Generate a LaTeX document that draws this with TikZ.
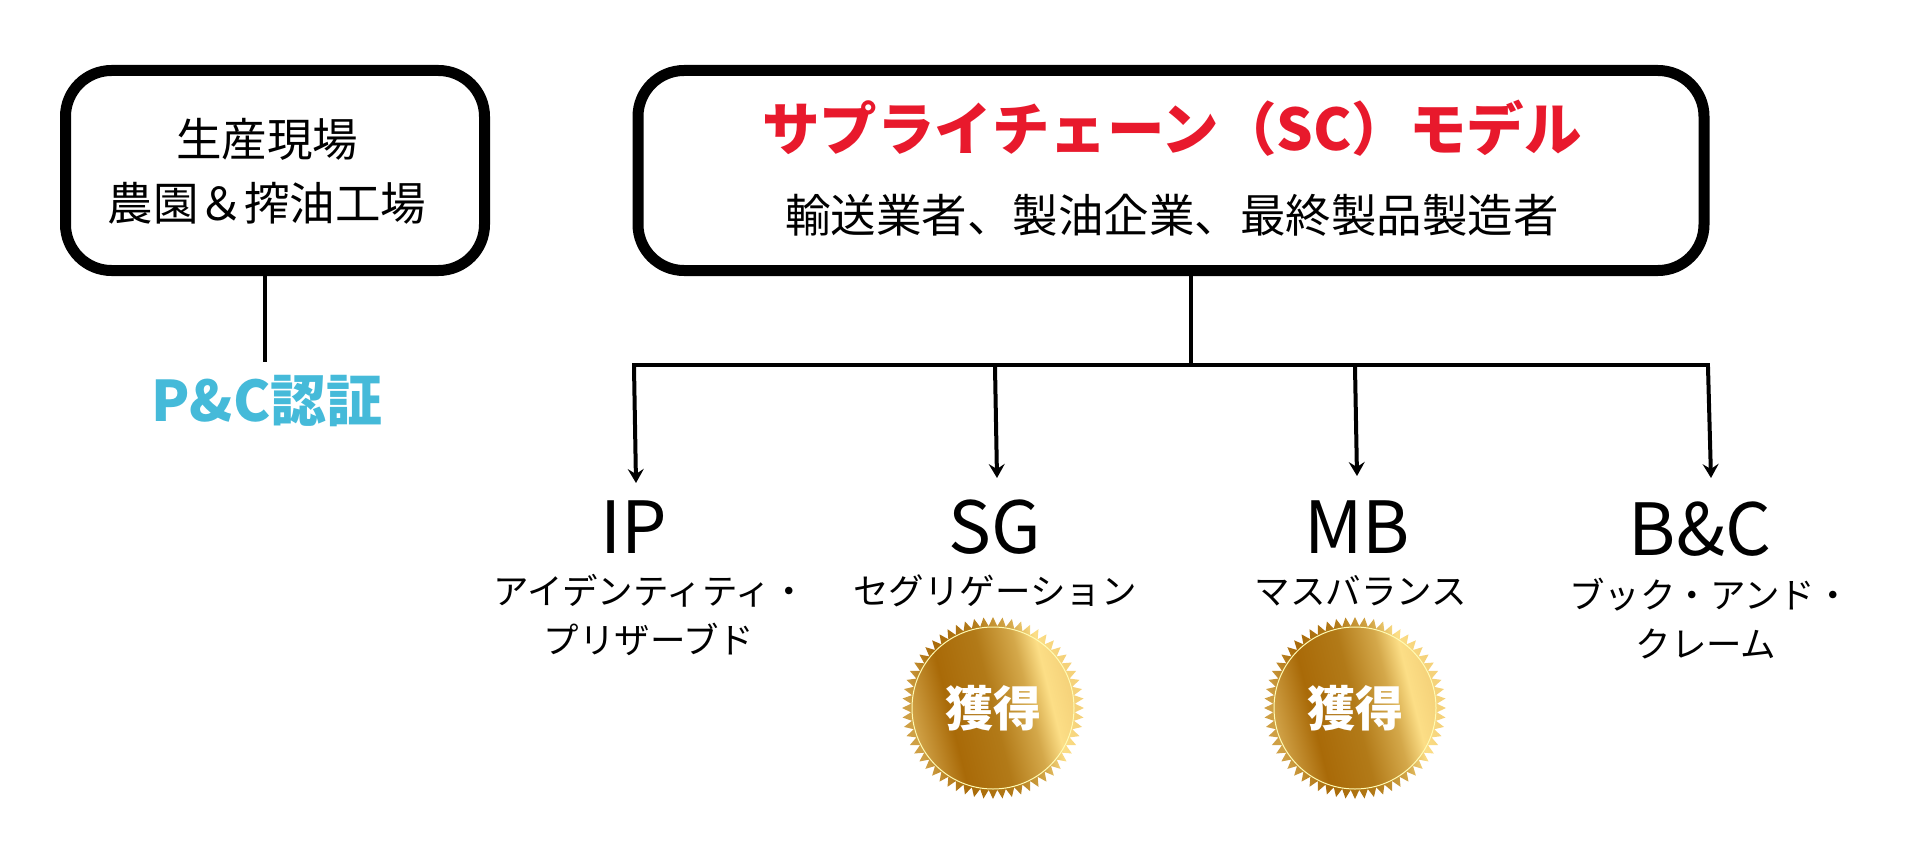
\documentclass[tikz,border=0pt]{standalone}
\usepackage{fontspec}
\setmainfont{Noto Sans CJK JP}
\usetikzlibrary{arrows.meta}

\definecolor{vermelho}{HTML}{E8192C}
\definecolor{azul}{HTML}{45BAD9}
\definecolor{ouroA}{HTML}{CFA045}
\definecolor{ouroB}{HTML}{A96A08}
\definecolor{ouroC}{HTML}{B27A18}
\definecolor{ouroD}{HTML}{D4A84A}
\definecolor{ouroE}{HTML}{FCDE86}
\definecolor{ouroF}{HTML}{F5D27A}
\pgfdeclarehorizontalshading{ouro}{100bp}{
    color(0bp)=(ouroA);
    color(28bp)=(ouroA);
    color(38bp)=(ouroB);
    color(50bp)=(ouroC);
    color(60bp)=(ouroD);
    color(66bp)=(ouroE);
    color(72bp)=(ouroF);
    color(100bp)=(ouroF)}

\tikzset{
    caixa/.style={draw=black, line width=11pt, rounded corners=46pt, fill=white},
    linha/.style={line width=4.5pt},
    seta/.style={line width=4pt, -{Stealth[length=14pt,width=16pt,inset=5pt]}},
    fs/.style={font=\fontsize{#1}{#1}\selectfont, anchor=base, inner sep=0pt},
}

\newcommand{\selo}[2]{
    \begin{scope}[shift={(#1)}]
        \shade[shading=ouro, shading angle=14] plot[samples=121, domain=0:120] ({3*\x}:{86.5+4.5*cos(180*mod(\x,2))}) -- cycle;
        \draw[line width=1pt, color=yellow!30!white] (0,0) circle (81pt);
    \end{scope}
    \node[fs=48, text=white, font=\fontsize{48}{48}\selectfont\bfseries] (#2) at ([yshift=-18pt]#1) {獲得};
}

\begin{document}
\begin{tikzpicture}[x=1pt, y=-1pt]
    \useasboundingbox (0,0) rectangle (1920,848);

    \node[caixa, minimum width=419pt, minimum height=200pt, outer sep=0pt] (fazenda) at (275,170.5) {};
    \node[caixa, minimum width=1066pt, minimum height=200pt, outer sep=0pt] (modelo) at (1171,170.5) {};

    \node[fs=45.5] (campo) at (267,157) {生産現場};
    \node[fs=45.5] (fabrica) at (267,220) {農園＆搾油工場};
    \node[fs=57.5, text=vermelho, font=\fontsize{57.5}{57.5}\selectfont\bfseries] (titulo) at (1172,151) {サプライチェーン（SC）モデル};
    \node[fs=45.5] (empresas) at (1172,232) {輸送業者、製油企業、最終製品製造者};
    \node[fs=56, text=azul, font=\fontsize{56}{56}\selectfont\bfseries] (pc) at (267,421) {P\&C認証};

    \node[fs=72] (ip) at (634,553) {IP};
    \node[fs=72] (sg) at (995,553) {SG};
    \node[fs=72] (mb) at (1357,553) {MB};
    \node[fs=72] (bc) at (1700,555) {B\&C};

    \node[fs=35.5] (ip1) at (650,604) {アイデンティティ・};
    \node[fs=35.5] (ip2) at (649,653) {プリザーブド};
    \node[fs=35.5] (sg1) at (995,604) {セグリゲーション};
    \node[fs=35.5] (mb1) at (1361,604) {マスバランス};
    \node[fs=35.5] (bc1) at (1710,608) {ブック・アンド・};
    \node[fs=35.5] (bc2) at (1706,657) {クレーム};

    % barramento
    \coordinate (pcTopo) at (265,362);
    \coordinate (meio) at (1191,365);
    \coordinate (busE) at (632,365);
    \coordinate (busD) at (1710,365);
    \coordinate (ipDe) at (634,367);
    \coordinate (ipPara) at (636,483);
    \coordinate (sgDe) at (995,367);
    \coordinate (sgPara) at (997,478);
    \coordinate (mbDe) at (1355,367);
    \coordinate (mbPara) at (1357,476);
    \coordinate (bcDe) at (1708,367);
    \coordinate (bcPara) at (1711,478);

    \draw[linha] (fazenda.south -| pcTopo) -- (pcTopo);
    \draw[linha] (modelo.south -| meio) -- (meio);
    \draw[linha] (busE) -- (busD);

    \draw[seta] (ipDe) -- (ipPara);
    \draw[seta] (sgDe) -- (sgPara);
    \draw[seta] (mbDe) -- (mbPara);
    \draw[seta] (bcDe) -- (bcPara);

    % selos
    \coordinate (seloSG) at (993,708);
    \coordinate (seloMB) at (1355,708);
    \selo{seloSG}{ganhoSG}
    \selo{seloMB}{ganhoMB}
\end{tikzpicture}
\end{document}
